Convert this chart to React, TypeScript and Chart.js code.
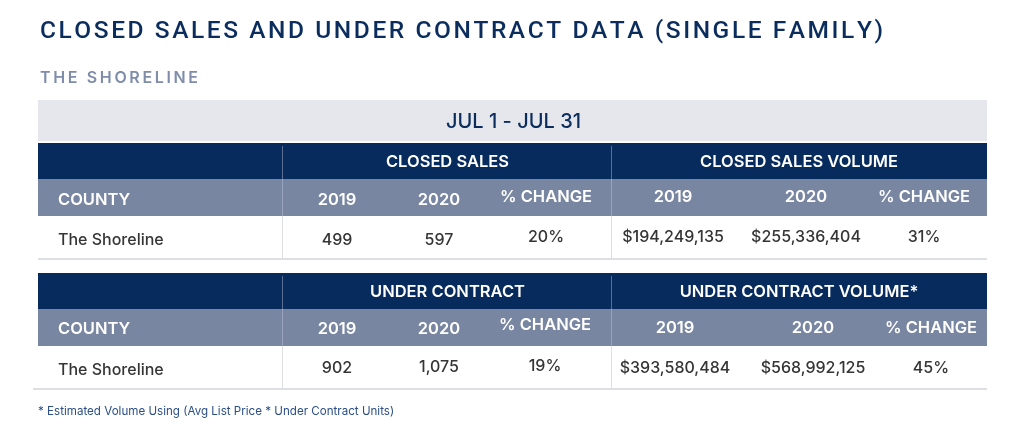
import React, { useEffect, useRef } from "react";
import { Chart, registerables } from "chart.js";

Chart.register(...registerables);

// ---------- content / data ----------
const TITLE = "CLOSED SALES AND UNDER CONTRACT DATA (SINGLE FAMILY)";
const SUBTITLE = "THE SHORELINE";
const PERIOD = "JUL 1 - JUL 31";
const FOOTNOTE = "* Estimated Volume Using (Avg List Price * Under Contract Units)";
const COUNTY_HEADER = "COUNTY";
const COUNTIES = ["The Shoreline"];
const COLUMN_LABELS = ["2019", "2020", "% CHANGE"];
const GROUPS_CLOSED = ["CLOSED SALES", "CLOSED SALES VOLUME"];
const GROUPS_CONTRACT = ["UNDER CONTRACT", "UNDER CONTRACT VOLUME*"];

const CLOSED_SALES = [499, 597];
const CLOSED_SALES_PCT = [20];
const CLOSED_VOLUME = [194249135, 255336404];
const CLOSED_VOLUME_PCT = [31];
const UNDER_CONTRACT = [902, 1075];
const UNDER_CONTRACT_PCT = [19];
const CONTRACT_VOLUME = [393580484, 568992125];
const CONTRACT_VOLUME_PCT = [45];

// ---------- layout / style ----------
const W = 1024;
const H = 439;
const FONT = "Inter, 'Noto Sans', sans-serif";
const TITLE_FONT = "Roboto, Inter, sans-serif";
const C = {
  title: "#0b2d5e",
  subtitle: "#7f8dab",
  band: "#e5e7ec",
  navy: "#072b5d",
  gray: "#7886a2",
  body: "#353535",
  line: "#dcdfe4",
  sepDark: "#5a6f93",
  sepGray: "#98a4bb",
  foot: "#2b4f86",
};
const TX = { left: 38, right: 987, sep1: 282, sep2: 611, county: 58 };
const TABLES = [
  {
    groups: GROUPS_CLOSED,
    top: 143,
    cols: [337, 439, 546, 673, 806, 924],
    headBase: 166.5,
    subBase: [204.5, 204.5, 202, 202, 202, 202],
    countyBase: 245,
    bodyBase: [244.5, 244.5, 241.5, 241.5, 241.5, 241.5],
    lineLeft: 38,
    vals: [CLOSED_SALES, CLOSED_SALES_PCT, CLOSED_VOLUME, CLOSED_VOLUME_PCT],
  },
  {
    groups: GROUPS_CONTRACT,
    top: 273,
    cols: [337, 439, 545, 675, 813, 931],
    headBase: 297.3,
    subBase: [334, 334, 330, 332.7, 332.7, 332.7],
    countyBase: 375,
    bodyBase: [372.7, 372, 371, 372.7, 372.7, 373],
    lineLeft: 33,
    vals: [UNDER_CONTRACT, UNDER_CONTRACT_PCT, CONTRACT_VOLUME, CONTRACT_VOLUME_PCT],
  },
];
const HEAD_H = 36;
const SUB_H = 37;
const BODY_H = 42;

const fmt = (n: number) => n.toLocaleString("en-US");
const money = (n: number) => "$" + n.toLocaleString("en-US");

function spaced(ctx: CanvasRenderingContext2D, text: string, x: number, base: number, target: number) {
  const chars = Array.from(text);
  const widths = chars.map((c) => ctx.measureText(c).width);
  const natural = widths.reduce((a, b) => a + b, 0);
  const gap = chars.length > 1 ? (target - natural) / (chars.length - 1) : 0;
  let cx = x;
  ctx.textAlign = "left";
  chars.forEach((c, i) => {
    ctx.fillText(c, cx, base);
    cx += widths[i] + gap;
  });
}

const tablePlugin = {
  id: "tableCells",
  afterDraw(chart: any) {
    const { ctx } = chart;
    const xs = chart.scales.x;
    const ys = chart.scales.y;
    const X = (v: number) => xs.getPixelForValue(v);
    const Y = (v: number) => ys.getPixelForValue(v);
    const rect = (x0: number, y0: number, x1: number, y1: number, color: string) => {
      ctx.fillStyle = color;
      ctx.fillRect(X(x0), Y(y0), X(x1) - X(x0), Y(y1) - Y(y0));
    };
    const text = (s: string, x: number, base: number, font: string, color: string, align: CanvasTextAlign = "center") => {
      ctx.font = font;
      ctx.fillStyle = color;
      ctx.textAlign = align;
      ctx.textBaseline = "alphabetic";
      ctx.fillText(s, X(x), Y(base));
    };
    ctx.save();

    // title + subtitle
    ctx.textBaseline = "alphabetic";
    ctx.font = `500 24.5px ${TITLE_FONT}`;
    ctx.fillStyle = C.title;
    spaced(ctx, TITLE, X(40), Y(38.3), X(883) - X(40));
    ctx.font = `600 16px ${FONT}`;
    ctx.fillStyle = C.subtitle;
    spaced(ctx, SUBTITLE, X(40), Y(83.3), X(198) - X(40));

    // period band
    rect(TX.left, 100, TX.right, 141, C.band);
    text(PERIOD, (TX.left + TX.right) / 2 + 1, 128, `500 20px ${FONT}`, C.title);

    TABLES.forEach((t) => {
      const y0 = t.top;
      const y1 = y0 + HEAD_H;
      const y2 = y1 + SUB_H;
      const y3 = y2 + BODY_H;
      rect(TX.left, y0, TX.right, y1, C.navy);
      rect(TX.left, y1, TX.right, y2, C.gray);
      // separators
      [TX.sep1, TX.sep2].forEach((sx) => {
        rect(sx, y0 + 3, sx + 1, y1, C.sepDark);
        rect(sx, y1, sx + 1, y2, C.sepGray);
        rect(sx, y2, sx + 1, y3, C.line);
      });
      rect(t.lineLeft, y3, TX.right, y3 + 2, C.line);

      // group titles
      const headFont = `600 16.5px ${FONT}`;
      text(t.groups[0], (TX.sep1 + TX.sep2) / 2 + 1, t.headBase, headFont, "#ffffff");
      text(t.groups[1], (TX.sep2 + TX.right) / 2, t.headBase, headFont, "#ffffff");

      // sub header
      const subFont = `600 16.5px ${FONT}`;
      text(COUNTY_HEADER, TX.county, t.subBase[0], subFont, "#ffffff", "left");
      t.cols.forEach((cx, i) => {
        text(COLUMN_LABELS[i % 3], cx, t.subBase[i], subFont, "#ffffff");
      });

      // body
      const bodyFont = `500 16px ${FONT}`;
      text(COUNTIES[0], TX.county, t.countyBase, bodyFont, C.body, "left");
      const [a, ap, b, bp] = t.vals;
      const cells = [fmt(a[0]), fmt(a[1]), ap[0] + "%", money(b[0]), money(b[1]), bp[0] + "%"];
      cells.forEach((s, i) => text(s, t.cols[i], t.bodyBase[i], bodyFont, C.body));
    });

    // footnote
    text(FOOTNOTE, TX.left, 415, `400 11.6px ${FONT}`, C.foot, "left");
    ctx.restore();
  },
};

export default function App() {
  const ref = useRef<HTMLCanvasElement | null>(null);
  useEffect(() => {
    document.body.style.margin = "0";
    const canvas = ref.current;
    if (!canvas) return;
    const chart = new Chart(canvas, {
      type: "scatter",
      data: { datasets: [] },
      options: {
        responsive: false,
        animation: false,
        devicePixelRatio: 1,
        layout: { padding: 0 },
        events: [],
        plugins: {
          legend: { display: false },
          tooltip: { enabled: false },
          title: { display: false },
        },
        scales: {
          x: { type: "linear", min: 0, max: W, display: false },
          y: { type: "linear", min: 0, max: H, reverse: true, display: false },
        },
      },
      plugins: [tablePlugin],
    });
    return () => chart.destroy();
  }, []);
  return (
    <div style={{ width: W, height: H, background: "#ffffff" }}>
      <canvas ref={ref} width={W} height={H} style={{ display: "block" }} />
    </div>
  );
}
